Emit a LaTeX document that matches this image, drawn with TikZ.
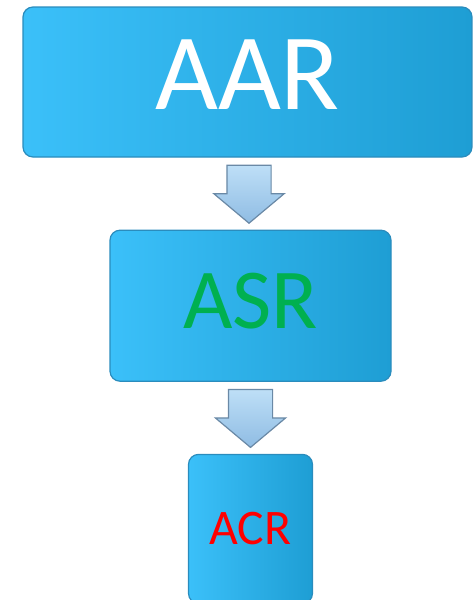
\documentclass[tikz,border=0pt]{standalone}
\usepackage{fontspec}
\setmainfont{Carlito}
\usetikzlibrary{positioning,shapes.arrows,calc}

\newdimen\px \px=0.75pt
\definecolor{boxlight}{HTML}{3BC0F9}
\definecolor{boxdark}{HTML}{1E9ED4}
\definecolor{boxedge}{HTML}{2A8CBD}
\definecolor{arrowlight}{HTML}{BEDFF7}
\definecolor{arrowdark}{HTML}{8FBCE3}
\definecolor{arrowedge}{HTML}{6A89A6}
\definecolor{asrgreen}{HTML}{00B050}

\begin{document}
\begin{tikzpicture}[x=0.75pt, y=-0.75pt,
    stagebox/.style={draw=boxedge, line width=1.2\px, rounded corners=10\px,
      left color=boxlight, right color=boxdark, inner sep=0pt, align=center},
    flowarrow/.style={single arrow, draw=arrowedge, line width=1.2\px,
      top color=arrowlight, bottom color=arrowdark, shape border rotate=270,
      minimum height=58\px, minimum width=69\px, single arrow head extend=13\px,
      single arrow tip angle=100, inner xsep=21.5\px, inner ysep=0pt,
      anchor=tail, yshift=29\px}]
    \useasboundingbox (0,0) rectangle (472,600);

    \node[stagebox, minimum width=449\px, minimum height=150\px, text=white,
      font=\fontsize{81.5}{81.5}\selectfont, text depth=14\px] (aar) at (247.5,82) {AAR};
    \node[stagebox, below=72\px of aar, xshift=3\px, minimum width=281\px, minimum height=151\px,
      text=asrgreen, font=\fontsize{64}{64}\selectfont, text depth=10\px] (asr) {ASR};
    \node[stagebox, below=72\px of asr, minimum width=124\px, minimum height=149\px,
      text=red, font=\fontsize{37.3}{37.3}\selectfont] (acr) {ACR};

    % block arrows between the stages
    \node[flowarrow] (step1) at ($(aar.south)!0.5!(asr.north)$) {};
    \node[flowarrow] (step2) at ($(asr.south)!0.5!(acr.north)$) {};
\end{tikzpicture}
\end{document}
